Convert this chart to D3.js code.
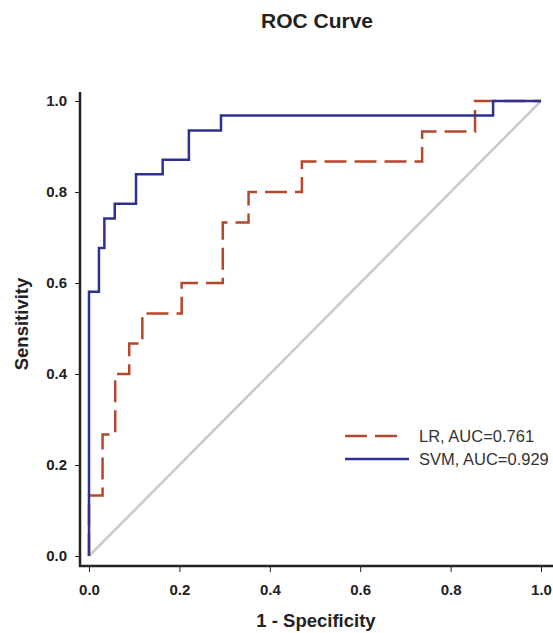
<!DOCTYPE html>
<html>
<head>
<meta charset="utf-8">
<script src="https://cdn.jsdelivr.net/npm/d3@7"></script>
<style>
  body { margin: 0; background: #fff; }
  svg { display: block; font-family: "Liberation Sans", Arial, sans-serif; }
</style>
</head>
<body>
<div id="chart"></div>
<script>
// ROC points (1 - specificity, sensitivity)
var lrFpr = [0, 0, 0.030, 0.030, 0.058, 0.058, 0.089, 0.089, 0.118, 0.118, 0.205, 0.205, 0.296, 0.296, 0.353, 0.353, 0.471, 0.471, 0.737, 0.737, 0.854, 0.854, 1];
var lrTpr = [0, 0.133, 0.133, 0.267, 0.267, 0.400, 0.400, 0.467, 0.467, 0.533, 0.533, 0.600, 0.600, 0.733, 0.733, 0.800, 0.800, 0.867, 0.867, 0.933, 0.933, 1, 1];

var svmFpr = [0, 0, 0.022, 0.022, 0.034, 0.034, 0.057, 0.057, 0.104, 0.104, 0.163, 0.163, 0.221, 0.221, 0.292, 0.292, 0.894, 0.894, 1];
var svmTpr = [0, 0.581, 0.581, 0.677, 0.677, 0.742, 0.742, 0.774, 0.774, 0.839, 0.839, 0.871, 0.871, 0.935, 0.935, 0.968, 0.968, 1, 1];

var ticks = [0, 0.2, 0.4, 0.6, 0.8, 1.0];
var legendLabels = ["LR, AUC=0.761", "SVM, AUC=0.929"];

var W = 553, H = 633;
var svg = d3.select("#chart").append("svg")
    .attr("width", W)
    .attr("height", H);

var x = d3.scaleLinear().domain([0, 1]).range([89, 541]);
var y = d3.scaleLinear().domain([0, 1]).range([556, 101]);

var ink = "#222";

// axes
var xAxis = svg.append("g")
    .attr("transform", "translate(0,566)")
    .call(d3.axisBottom(x).tickValues(ticks).tickFormat(d3.format(".1f")).tickSize(6).tickPadding(12));
var yAxis = svg.append("g")
    .attr("transform", "translate(80,0)")
    .call(d3.axisLeft(y).tickValues(ticks).tickFormat(d3.format(".1f")).tickSize(5).tickPadding(8));

[xAxis, yAxis].forEach(function (g) {
    g.select(".domain").remove();
    g.selectAll(".tick line").attr("stroke", ink).attr("stroke-width", 1);
    g.selectAll(".tick text")
        .attr("fill", ink)
        .style("font-size", "15px")
        .style("font-weight", "bold")
        .style("font-family", "'Liberation Sans', Arial, sans-serif");
});

// L shaped frame
svg.append("line")
    .attr("x1", 80).attr("x2", 80).attr("y1", 92).attr("y2", 567)
    .attr("stroke", ink).attr("stroke-width", 2.5);
svg.append("line")
    .attr("x1", 79).attr("x2", W).attr("y1", 566).attr("y2", 566)
    .attr("stroke", ink).attr("stroke-width", 2.5);

// reference diagonal
svg.append("line")
    .attr("x1", x(0)).attr("y1", y(0))
    .attr("x2", x(1)).attr("y2", y(1))
    .attr("stroke", "#cacaca").attr("stroke-width", 2.5);

var line = d3.line()
    .x(function (d) { return x(d[0]); })
    .y(function (d) { return y(d[1]); });

svg.append("path")
    .datum(d3.zip(lrFpr, lrTpr))
    .attr("d", line)
    .attr("fill", "none")
    .attr("stroke", "#b5472c")
    .attr("stroke-width", 2.5)
    .attr("stroke-dasharray", "22 8");

svg.append("path")
    .datum(d3.zip(svmFpr, svmTpr))
    .attr("d", line)
    .attr("fill", "none")
    .attr("stroke", "#2e3192")
    .attr("stroke-width", 2.5);

// legend
var legend = svg.append("g");
var legendStyle = [
    { color: "#b5472c", dash: "22 8", end: 398 },
    { color: "#2e3192", dash: null, end: 409 }
];
legendLabels.forEach(function (lab, i) {
    var ly = 436 + i * 23;
    legend.append("line")
        .attr("x1", 345).attr("x2", legendStyle[i].end)
        .attr("y1", ly).attr("y2", ly)
        .attr("stroke", legendStyle[i].color)
        .attr("stroke-width", 2.5)
        .attr("stroke-dasharray", legendStyle[i].dash);
    legend.append("text")
        .attr("x", 419).attr("y", ly)
        .attr("dy", "0.36em")
        .attr("fill", "#333")
        .style("font-size", "16.5px")
        .text(lab);
});

// titles
svg.append("text")
    .attr("x", 317).attr("y", 28)
    .attr("text-anchor", "middle")
    .attr("fill", ink)
    .style("font-size", "21px")
    .style("font-weight", "bold")
    .text("ROC Curve");

svg.append("text")
    .attr("x", 316).attr("y", 627)
    .attr("text-anchor", "middle")
    .attr("fill", ink)
    .style("font-size", "18.5px")
    .style("font-weight", "bold")
    .text("1 - Specificity");

svg.append("text")
    .attr("transform", "translate(28,324) rotate(-90)")
    .attr("text-anchor", "middle")
    .attr("fill", ink)
    .style("font-size", "18.5px")
    .style("font-weight", "bold")
    .text("Sensitivity");
</script>
</body>
</html>
